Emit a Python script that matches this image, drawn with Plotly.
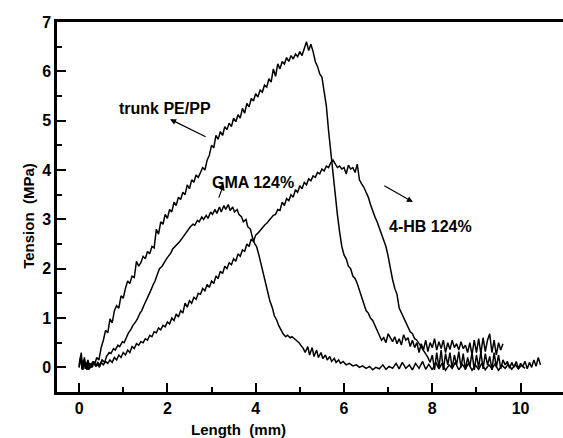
import plotly.graph_objects as go

trunk_x = [0.00,0.05,0.08,0.12,0.16,0.20,0.25,0.30,0.35,0.40,0.45,0.50,0.55,0.60,0.65,0.70,0.75,0.80,0.85,0.90,0.95,1.00,1.05,1.10,1.15,1.20,1.25,1.30,1.35,1.40,1.45,1.50,1.55,1.60,1.65,1.70,1.75,1.80,1.85,1.90,1.95,2.00,2.05,2.10,2.15,2.20,2.25,2.30,2.35,2.40,2.45,2.50,2.55,2.60,2.65,2.70,2.75,2.80,2.85,2.90,2.95,3.00,3.05,3.10,3.15,3.20,3.25,3.30,3.35,3.40,3.45,3.50,3.55,3.60,3.65,3.70,3.75,3.80,3.85,3.90,3.95,4.00,4.05,4.10,4.15,4.20,4.25,4.30,4.35,4.40,4.45,4.50,4.55,4.60,4.65,4.70,4.75,4.80,4.85,4.90,4.95,5.00,5.05,5.10,5.15,5.20,5.25,5.30,5.35,5.40,5.45,5.50,5.55,5.60,5.65,5.70,5.75,5.80,5.85,5.90,5.95,6.00,6.05,6.10,6.15,6.20,6.25,6.30,6.35,6.40,6.45,6.50,6.55,6.60,6.65,6.70,6.75,6.80,6.85,6.90,6.95,7.00,7.05,7.10,7.15,7.20,7.25,7.30,7.35,7.40,7.45,7.50,7.55,7.60,7.65,7.70,7.75,7.80,7.85,7.90,7.95,8.00,8.05,8.10,8.15,8.20,8.25,8.30,8.35,8.40,8.45,8.50,8.55,8.60,8.65,8.70,8.75,8.80,8.85,8.90,8.95,9.00,9.05,9.10,9.15,9.20,9.25,9.30,9.35,9.40,9.45,9.50,9.55,9.60]
trunk_y = [0.05,0.30,-0.05,0.20,0.00,0.15,-0.02,0.10,0.05,0.20,0.15,0.40,0.55,0.75,0.70,0.98,0.90,1.15,1.25,1.20,1.45,1.40,1.60,1.75,1.70,1.85,1.82,2.15,2.05,2.12,2.25,2.20,2.35,2.30,2.45,2.42,2.80,2.70,2.95,2.90,3.10,3.02,3.20,3.15,3.35,3.28,3.45,3.40,3.55,3.50,3.70,3.62,3.80,3.75,3.90,3.85,3.95,4.05,4.00,4.20,4.30,4.50,4.45,4.70,4.62,4.78,4.70,4.88,4.82,4.95,4.88,5.05,4.98,5.12,5.05,5.25,5.15,5.35,5.28,5.45,5.40,5.55,5.48,5.62,5.58,5.72,5.68,5.85,5.78,6.05,5.90,6.15,6.05,6.20,6.15,6.28,6.20,6.32,6.25,6.35,6.30,6.40,6.32,6.45,6.60,6.42,6.55,6.40,6.20,6.10,5.95,5.88,5.60,5.30,4.80,4.35,4.05,3.55,3.10,2.75,2.45,2.28,2.20,2.05,2.00,1.85,1.80,1.70,1.55,1.40,1.25,1.15,1.10,1.00,0.95,0.85,0.75,0.65,0.55,0.60,0.50,0.68,0.60,0.52,0.62,0.48,0.58,0.45,0.66,0.55,0.60,0.42,0.55,0.40,0.50,0.30,0.48,0.35,0.55,0.32,0.50,0.40,0.58,0.35,0.52,0.38,0.55,0.30,0.50,0.36,0.55,0.40,0.48,0.35,0.52,0.38,0.45,0.30,0.50,0.25,0.55,0.30,0.58,0.28,0.60,0.32,0.55,0.68,0.30,0.55,0.25,0.50,0.35,0.48]

gma_x = [0.00,0.05,0.08,0.12,0.18,0.22,0.28,0.32,0.38,0.42,0.48,0.52,0.58,0.62,0.68,0.72,0.78,0.82,0.88,0.92,0.98,1.02,1.08,1.12,1.18,1.22,1.28,1.32,1.38,1.42,1.48,1.52,1.58,1.62,1.68,1.72,1.78,1.82,1.88,1.92,1.98,2.02,2.08,2.12,2.18,2.22,2.28,2.32,2.38,2.42,2.48,2.52,2.58,2.62,2.68,2.72,2.78,2.82,2.88,2.92,2.98,3.02,3.08,3.12,3.18,3.22,3.28,3.32,3.38,3.42,3.48,3.52,3.58,3.62,3.68,3.72,3.78,3.82,3.88,3.92,3.98,4.02,4.08,4.12,4.18,4.22,4.28,4.32,4.38,4.42,4.48,4.52,4.58,4.62,4.68,4.72,4.78,4.82,4.88,4.92,4.98,5.02,5.08,5.12,5.18,5.22,5.28,5.32,5.38,5.42,5.48,5.52,5.58,5.62,5.68,5.72,5.78,5.82,5.88,5.92,5.98,6.05,6.12,6.20,6.28,6.35,6.42,6.50,6.58,6.65,6.72,6.80,6.88,6.95,7.02,7.10,7.18,7.25,7.32,7.40,7.48,7.55,7.62,7.70,7.78,7.85,7.92,8.00,8.08,8.15,8.22,8.30,8.38,8.45,8.52,8.60,8.68,8.75,8.82,8.90,8.98,9.05,9.12,9.20,9.28,9.35,9.42,9.50,9.58,9.65,9.72,9.80,9.88,9.95,10.02,10.10]
gma_y = [0.00,0.20,-0.05,0.10,-0.05,0.08,0.00,0.12,0.02,0.10,0.05,0.15,0.10,0.22,0.30,0.28,0.38,0.35,0.45,0.42,0.52,0.50,0.62,0.70,0.78,0.85,0.92,0.98,1.10,1.15,1.28,1.35,1.48,1.55,1.68,1.75,1.90,2.00,2.05,2.12,2.20,2.25,2.32,2.40,2.45,2.50,2.55,2.60,2.68,2.72,2.80,2.85,2.90,2.88,2.98,2.95,3.05,3.00,3.08,3.02,3.15,3.10,3.20,3.12,3.25,3.15,3.28,3.20,3.30,3.18,3.25,3.15,3.20,3.10,3.05,2.95,3.00,2.85,2.80,2.65,2.50,2.45,2.25,2.10,1.90,1.70,1.50,1.35,1.20,1.05,0.95,0.85,0.75,0.68,0.62,0.65,0.60,0.62,0.58,0.55,0.50,0.45,0.38,0.30,0.42,0.25,0.40,0.22,0.35,0.20,0.30,0.18,0.25,0.15,0.22,0.12,0.18,0.10,0.15,0.08,0.12,0.05,0.08,0.03,0.05,0.00,0.03,-0.02,0.02,-0.05,0.00,-0.03,0.05,-0.04,0.02,-0.02,0.08,-0.03,0.10,-0.02,0.05,-0.05,0.08,-0.02,0.12,-0.04,0.06,-0.05,0.10,-0.03,0.08,-0.06,0.05,-0.02,0.10,-0.05,0.06,-0.03,0.08,-0.06,0.04,-0.04,0.08,-0.05,0.05,-0.03,0.07,-0.06,0.04,-0.02,0.06,-0.04,0.05,-0.03,0.04,-0.02]

hb_x = [0.00,0.04,0.07,0.10,0.14,0.18,0.22,0.26,0.30,0.34,0.38,0.42,0.46,0.50,0.55,0.60,0.65,0.70,0.75,0.80,0.85,0.90,0.95,1.00,1.05,1.10,1.15,1.20,1.25,1.30,1.35,1.40,1.45,1.50,1.55,1.60,1.65,1.70,1.75,1.80,1.85,1.90,1.95,2.00,2.05,2.10,2.15,2.20,2.25,2.30,2.35,2.40,2.45,2.50,2.55,2.60,2.65,2.70,2.75,2.80,2.85,2.90,2.95,3.00,3.05,3.10,3.15,3.20,3.25,3.30,3.35,3.40,3.45,3.50,3.55,3.60,3.65,3.70,3.75,3.80,3.85,3.90,3.95,4.00,4.05,4.10,4.15,4.20,4.25,4.30,4.35,4.40,4.45,4.50,4.55,4.60,4.65,4.70,4.75,4.80,4.85,4.90,4.95,5.00,5.05,5.10,5.15,5.20,5.25,5.30,5.35,5.40,5.45,5.50,5.55,5.60,5.65,5.70,5.75,5.80,5.85,5.90,5.95,6.00,6.05,6.10,6.15,6.20,6.25,6.30,6.35,6.40,6.45,6.50,6.55,6.60,6.65,6.70,6.75,6.80,6.85,6.90,6.95,7.00,7.05,7.10,7.15,7.20,7.25,7.30,7.35,7.40,7.45,7.50,7.55,7.60,7.65,7.70,7.75,7.80,7.85,7.90,7.95,8.00,8.05,8.10,8.15,8.20,8.25,8.30,8.35,8.40,8.45,8.50,8.55,8.60,8.65,8.70,8.75,8.80,8.85,8.90,8.95,9.00,9.05,9.10,9.15,9.20,9.25,9.30,9.35,9.40,9.45,9.50,9.55,9.60,9.65,9.70,9.75,9.80,9.85,9.90,9.95,10.00,10.05,10.10,10.15,10.20,10.25,10.30,10.35,10.40,10.45]
hb_y = [0.00,0.25,-0.05,0.15,-0.03,0.10,-0.05,0.08,0.00,0.12,0.02,0.08,0.00,0.10,0.05,0.12,0.08,0.15,0.10,0.20,0.15,0.25,0.20,0.30,0.25,0.35,0.30,0.42,0.38,0.48,0.45,0.52,0.50,0.58,0.55,0.65,0.62,0.72,0.70,0.80,0.76,0.85,0.82,0.92,0.88,1.00,0.95,1.08,1.02,1.15,1.10,1.30,1.22,1.35,1.30,1.42,1.38,1.50,1.48,1.60,1.55,1.68,1.62,1.75,1.70,1.85,1.80,1.95,1.90,2.05,2.00,2.12,2.08,2.20,2.15,2.30,2.25,2.38,2.35,2.50,2.45,2.60,2.55,2.68,2.72,2.78,2.82,2.88,2.92,2.98,3.02,3.08,3.10,3.20,3.18,3.35,3.28,3.42,3.38,3.50,3.45,3.60,3.55,3.68,3.62,3.75,3.70,3.82,3.78,3.88,3.85,3.95,3.92,4.02,3.98,4.08,4.05,4.15,4.20,4.12,4.05,4.08,4.02,4.05,3.92,4.10,4.02,4.05,3.95,4.12,3.80,3.72,3.65,3.55,3.45,3.30,3.15,3.05,2.95,2.82,2.70,2.55,2.45,2.25,2.00,1.78,1.60,1.48,1.20,1.10,1.00,0.90,0.80,0.72,0.68,0.58,0.55,0.48,0.40,0.35,0.28,0.20,0.10,0.25,-0.05,0.30,0.00,0.35,-0.05,0.28,0.05,0.30,-0.02,0.25,0.05,0.32,0.00,0.28,-0.05,0.20,0.02,0.30,-0.05,0.25,0.00,0.32,-0.03,0.28,0.05,0.22,-0.05,0.30,0.00,0.25,-0.03,0.15,0.05,0.12,-0.02,0.10,0.00,0.12,-0.03,0.08,0.02,0.12,-0.03,0.10,0.00,0.15,0.02,0.20,0.05]

x_ticks = [0, 2, 4, 6, 8, 10]
y_ticks = [0, 1, 2, 3, 4, 5, 6, 7]

FONT = "Liberation Sans"
line = dict(color="black", width=1.5)

fig = go.Figure()
for xs, ys in [(trunk_x, trunk_y), (gma_x, gma_y), (hb_x, hb_y)]:
    fig.add_trace(go.Scatter(x=xs, y=ys, mode="lines", line=line, showlegend=False))

axis_common = dict(showline=True, linecolor="black", linewidth=2.5, ticks="inside",
                   tickcolor="black", tickwidth=2, ticklen=9, showgrid=False, zeroline=False,
                   tickfont=dict(family=FONT, size=16, color="black"))

fig.update_xaxes(range=[-0.5, 10.96], tickvals=x_ticks, ticktext=["<b>%d</b>" % v for v in x_ticks],
                 minor=dict(ticks="inside", ticklen=5, tickwidth=2, tickcolor="black", dtick=1, tick0=0),
                 mirror=True, **axis_common)
fig.update_yaxes(range=[-0.5, 7], tickvals=y_ticks, ticktext=["<b>%d</b>" % v for v in y_ticks],
                 minor=dict(ticks="inside", ticklen=5, tickwidth=2, tickcolor="black", dtick=0.5, tick0=0),
                 **axis_common)

ann_font = dict(family=FONT, size=16, color="black")
annotations = [
    dict(text="<b>trunk PE/PP</b>", x=1.95, y=5.25, xref="x", yref="y", showarrow=False, font=ann_font),
    dict(text="<b>GMA 124%</b>", x=3.95, y=3.75, xref="x", yref="y", showarrow=False, font=ann_font),
    dict(text="<b>4-HB 124%</b>", x=7.95, y=2.85, xref="x", yref="y", showarrow=False, font=ann_font),
    dict(x=2.06, y=5.03, ax=2.90, ay=4.66, xref="x", yref="y", axref="x", ayref="y",
         showarrow=True, arrowhead=2, arrowsize=1, arrowwidth=1.2, arrowcolor="black", text=""),
    dict(x=3.28, y=3.71, ax=3.15, ay=3.41, xref="x", yref="y", axref="x", ayref="y",
         showarrow=True, arrowhead=2, arrowsize=1, arrowwidth=1.2, arrowcolor="black", text=""),
    dict(x=7.56, y=3.35, ax=6.88, ay=3.70, xref="x", yref="y", axref="x", ayref="y",
         showarrow=True, arrowhead=2, arrowsize=1, arrowwidth=1.2, arrowcolor="black", text=""),
    dict(text="<b>Length  (mm)</b>", x=3.6, y=-0.5, xref="x", yref="y", yshift=-37, showarrow=False,
         font=dict(family=FONT, size=15, color="black")),
    dict(text="<b>Tension  (MPa)</b>", x=-0.077, y=0.475, xref="paper", yref="paper", textangle=-90,
         showarrow=False, font=dict(family=FONT, size=15, color="black")),
]
fig.update_layout(width=563, height=438, margin=dict(l=57, r=0, t=22, b=46),
                  plot_bgcolor="white", paper_bgcolor="white", annotations=annotations)

fig.write_html("out.html")
